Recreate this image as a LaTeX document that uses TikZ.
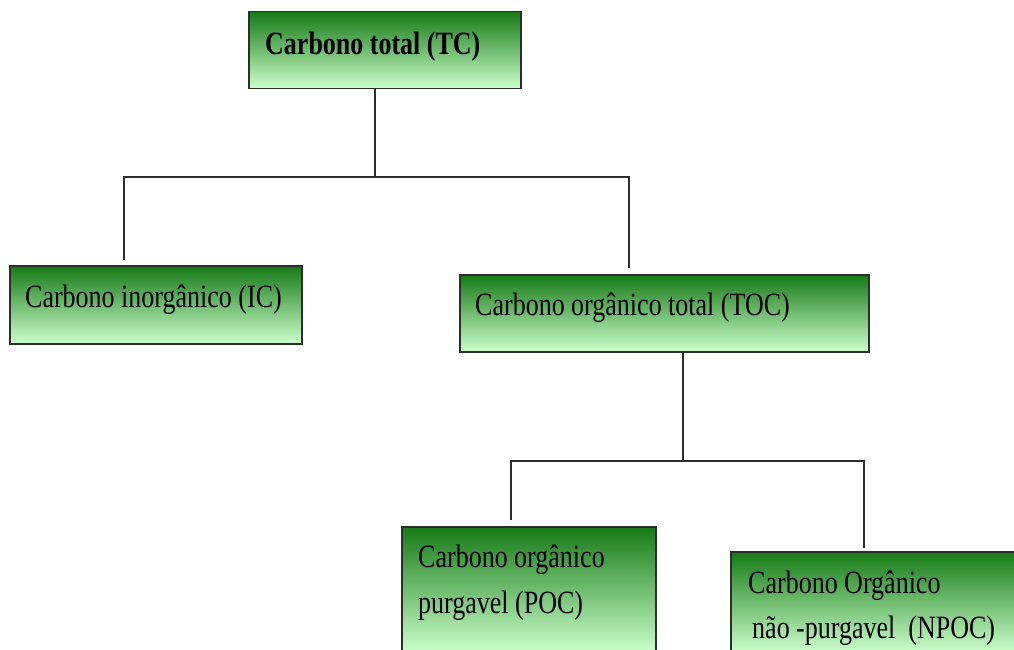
\documentclass[tikz,border=0pt]{standalone}
\usepackage{fontspec}
\newfontfamily\boxfont[FakeStretch=0.8]{Liberation Serif}
\definecolor{gdark}{RGB}{22,122,22}
\definecolor{glight}{RGB}{204,255,204}
\definecolor{edge}{RGB}{45,45,45}
\tikzset{
  gbox/.style={draw=edge, line width=1.5pt, top color=gdark, bottom color=glight, anchor=north west, inner sep=0pt},
  lbl/.style={anchor=base west, inner sep=0pt, font=\boxfont\fontsize{32.5}{46}\selectfont, text=black},
  conn/.style={draw=edge, line width=1.5pt}
}
\begin{document}
\begin{tikzpicture}[x=1pt,y=-1pt]
\useasboundingbox (0,0) rectangle (1014,650);
\clip (0,0) rectangle (1014,650);
\fill[white] (0,0) rectangle (1014,650);
% boxes
\node[gbox, minimum width=272pt, minimum height=77pt] (tc) at (248,11) {};
\node[gbox, minimum width=292pt, minimum height=78pt] (ic) at (9,265) {};
\node[gbox, minimum width=409pt, minimum height=77pt] (toc) at (459,274) {};
\node[gbox, minimum width=254pt, minimum height=126pt] (poc) at (401,526) {};
\node[gbox, minimum width=300pt, minimum height=101pt] (npoc) at (730,551) {};
% labels
\node[lbl, font=\boxfont\bfseries\fontsize{32.5}{46}\selectfont] (tct) at (265,55) {Carbono total (TC)};
\node[lbl] (ict) at (25,307) {Carbono inorgânico (IC)};
\node[lbl] (toct) at (475,315) {Carbono orgânico total (TOC)};
\node[lbl] (poct1) at (418,567) {Carbono orgânico};
\node[lbl] (poct2) at (418,613) {purgavel (POC)};
\node[lbl] (npoct1) at (748,593) {Carbono Orgânico};
\node[lbl] (npoct2) at (752,638) {não -purgavel\ \ (NPOC)};
% junctions
\coordinate (j1) at (375,177);
\coordinate (j1l) at (124,177);
\coordinate (j1r) at (630,177);
\coordinate (e1l) at (124,260);
\coordinate (e1r) at (629,268);
\coordinate (j2) at (683,461);
\coordinate (j2l) at (511,461);
\coordinate (j2r) at (864,461);
\coordinate (e2l) at (511,520);
\coordinate (e2r) at (864,548);
% connectors
\draw[conn] (tc.south -| j1) -- (j1);
\draw[conn] (e1l) -- (j1l) -- (j1r);
\draw[conn] (629,177) -- (e1r);
\draw[conn] (toc.south -| j2) -- (j2);
\draw[conn] (e2l) -- (j2l) -- (j2r) -- (e2r);
\end{tikzpicture}
\end{document}
